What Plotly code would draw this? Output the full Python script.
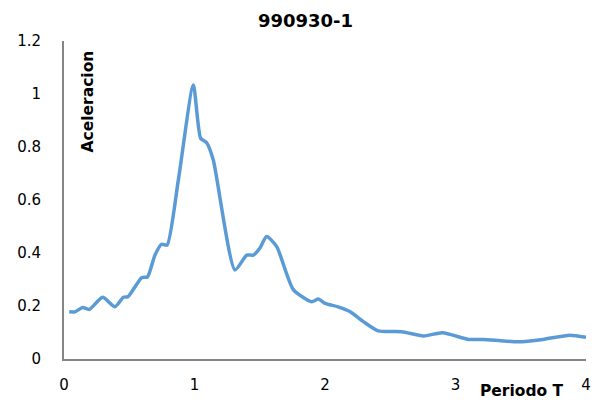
import plotly.graph_objects as go

periodo = [0.04, 0.084, 0.143, 0.194, 0.296, 0.39, 0.455, 0.49, 0.595, 0.64, 0.697,
           0.748, 0.79, 0.876, 0.991, 1.047, 1.093, 1.144, 1.31, 1.40, 1.45, 1.50,
           1.553, 1.63, 1.757, 1.898, 1.949, 2.0, 2.10, 2.19, 2.294, 2.408, 2.588,
           2.753, 2.90, 3.10, 3.21, 3.48, 3.67, 3.877, 4.0]
aceleracion = [0.178, 0.178, 0.194, 0.187, 0.233, 0.197, 0.233, 0.235, 0.307, 0.31, 0.392,
               0.433, 0.43, 0.675, 1.034, 0.833, 0.816, 0.751, 0.336, 0.392, 0.392, 0.418,
               0.462, 0.424, 0.262, 0.216, 0.226, 0.21, 0.197, 0.179, 0.141, 0.106, 0.103,
               0.087, 0.099, 0.074, 0.074, 0.065, 0.074, 0.09, 0.082]
x_ticks = [0, 1, 2, 3, 4]
y_ticks = [0, 0.2, 0.4, 0.6, 0.8, 1, 1.2]
y_labels = ["0", "0.2", "0.4", "0.6", "0.8", "1", "1.2"]

font = "DejaVu Sans, sans-serif"

W, H = 600, 408
ML, MR, MT, MB = 64, 14, 41, 49
PW, PH = W - ML - MR, H - MT - MB


def px_to_paper(px, py):
    return (px - ML) / PW, (H - MB - py) / PH


ax_x, ax_y = px_to_paper(87.5, 102)
pt_x, pt_y = px_to_paper(521.5, 391)

fig = go.Figure()
fig.add_trace(go.Scatter(
    x=periodo, y=aceleracion, mode="lines",
    line=dict(color="#5B9BD5", width=3.5, shape="spline", smoothing=0.6),
    hoverinfo="skip", showlegend=False,
))

fig.update_layout(
    width=W, height=H,
    margin=dict(l=ML, r=MR, t=MT, b=MB, autoexpand=False),
    paper_bgcolor="white", plot_bgcolor="white",
    font=dict(family=font, size=15, color="#000000"),
    title=dict(text="<b>990930-1</b>", x=305.5 / W, xanchor="center",
               y=1 - 21 / H, yanchor="middle",
               font=dict(family=font, size=18, color="#000000")),
    xaxis=dict(range=[0, 4], tickvals=x_ticks, ticktext=[str(v) for v in x_ticks],
               showgrid=False, zeroline=False, showline=True, linecolor="#868686",
               linewidth=2, ticks="", ticklabelstandoff=11),
    yaxis=dict(range=[0, 1.2], tickvals=y_ticks, ticktext=y_labels,
               showgrid=False, zeroline=False, showline=True, linecolor="#868686",
               linewidth=2, ticks="", ticklabelstandoff=18),
    annotations=[
        dict(text="<b>Aceleracion</b>", x=ax_x, y=ax_y, xref="paper", yref="paper",
             xanchor="center", yanchor="middle", showarrow=False, textangle=-90,
             font=dict(family=font, size=15.5)),
        dict(text="<b>Periodo T</b>", x=pt_x, y=pt_y, xref="paper", yref="paper",
             xanchor="center", yanchor="middle", showarrow=False,
             font=dict(family=font, size=15.5)),
    ],
)

fig.write_html("out.html", config={"displayModeBar": False},
               post_script="document.body.style.margin='0';")
